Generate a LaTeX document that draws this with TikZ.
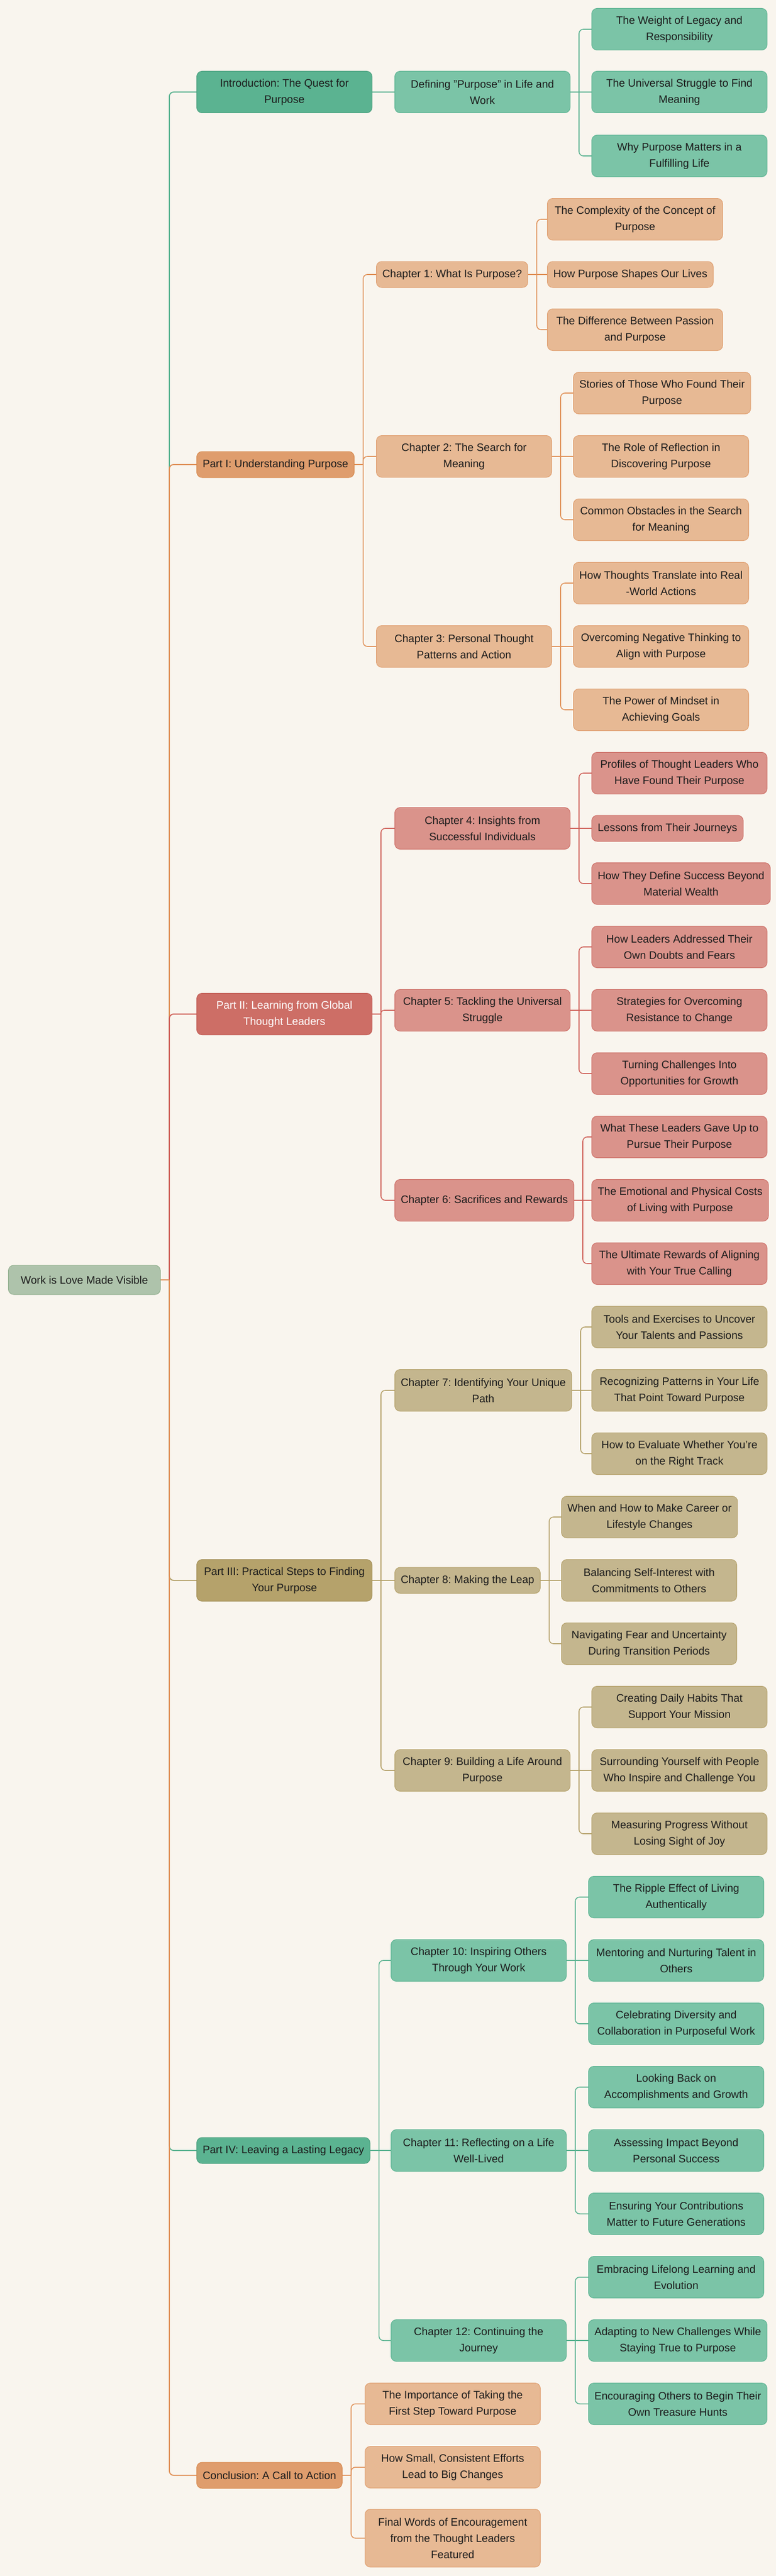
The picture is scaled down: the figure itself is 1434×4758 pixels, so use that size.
\documentclass[tikz,border=0pt]{standalone}
\usepackage{fontspec}
\setmainfont{Liberation Sans}
\frenchspacing

\definecolor{bgcream}{HTML}{F9F5EE}
\definecolor{textdark}{HTML}{1C1C1C}
\definecolor{rootfill}{HTML}{AEC3AB}
\definecolor{rootdraw}{HTML}{8FAE8C}
\definecolor{greenA}{HTML}{5BB391}
\definecolor{greenAd}{HTML}{4A9F7D}
\definecolor{greenB}{HTML}{7BC4A7}
\definecolor{orangeA}{HTML}{DF9D6D}
\definecolor{orangeAd}{HTML}{D88A4E}
\definecolor{orangeB}{HTML}{E7B994}
\definecolor{orangeL}{HTML}{E0925A}
\definecolor{redA}{HTML}{CD6E66}
\definecolor{redAd}{HTML}{C05A52}
\definecolor{redB}{HTML}{DA938B}
\definecolor{redL}{HTML}{CF625A}
\definecolor{khakiA}{HTML}{B5A26B}
\definecolor{khakiAd}{HTML}{A28E55}
\definecolor{khakiB}{HTML}{C4B68E}

\tikzset{
    box/.style = {anchor = west, rounded corners = 5pt, align = center, inner xsep = 5.5pt,
        inner ysep = 2pt, line width = 0.5pt, text = textdark,
        font = \fontsize{10pt}{15pt}\selectfont},
    oneline/.style = {minimum height = 24pt},
    twoline/.style = {minimum height = 38.5pt, minimum width = 162pt},
    threeline/.style = {minimum height = 53.5pt, minimum width = 162pt},
    rootbox/.style = {box, fill = rootfill, draw = rootdraw, inner xsep = 11.5pt, minimum height = 27pt},
    partgreen/.style = {box, fill = greenA, draw = greenAd},
    subgreen/.style = {box, fill = greenB, draw = greenA},
    partorange/.style = {box, fill = orangeA, draw = orangeAd},
    suborange/.style = {box, fill = orangeB, draw = orangeA},
    partred/.style = {box, fill = redA, draw = redAd, text = white},
    subred/.style = {box, fill = redB, draw = redA},
    partkhaki/.style = {box, fill = khakiA, draw = khakiAd},
    subkhaki/.style = {box, fill = khakiB, draw = khakiA},
    linegreen/.style = {draw = greenA, line width = 0.8pt, rounded corners = 4pt},
    lineorange/.style = {draw = orangeL, line width = 0.8pt, rounded corners = 4pt},
    linered/.style = {draw = redL, line width = 0.8pt, rounded corners = 4pt},
    linekhaki/.style = {draw = khakiA, line width = 0.8pt, rounded corners = 4pt}
}

\begin{document}
\begin{tikzpicture}[x = 0.5pt, y = -0.5pt]
            \useasboundingbox (0, 0) rectangle (1434, 4758);
            \fill [bgcream] (0, 0) rectangle (1434, 4758);

            \node [rootbox] (root) at (15, 2364) {Work is Love Made Visible};

            % introduction
            \node [partgreen, twoline] (intro) at (363, 170) {Introduction: The Quest for\\Purpose};
            \node [subgreen, twoline] (def) at (729, 170) {Defining "Purpose" in Life and\\Work};
            \node [subgreen, twoline] (weight) at (1093, 54) {The Weight of Legacy and\\Responsibility};
            \node [subgreen, twoline] (universal) at (1093, 170) {The Universal Struggle to Find\\Meaning};
            \node [subgreen, twoline] (why) at (1093, 288) {Why Purpose Matters in a\\Fulfilling Life};

            % part I
            \node [partorange, oneline] (part1) at (363, 858) {Part I: Understanding Purpose};
            \node [suborange, oneline] (ch1) at (695, 507) {Chapter 1: What Is Purpose?};
            \node [suborange, twoline] (complexity) at (1011, 405) {The Complexity of the Concept of\\Purpose};
            \node [suborange, oneline] (shapes) at (1011, 507) {How Purpose Shapes Our Lives};
            \node [suborange, twoline] (difference) at (1011, 609) {The Difference Between Passion\\and Purpose};
            \node [suborange, twoline] (ch2) at (695, 843) {Chapter 2: The Search for\\Meaning};
            \node [suborange, twoline] (stories) at (1059, 726) {Stories of Those Who Found Their\\Purpose};
            \node [suborange, twoline] (reflection) at (1059, 843) {The Role of Reflection in\\Discovering Purpose};
            \node [suborange, twoline] (obstacles) at (1059, 960) {Common Obstacles in the Search\\for Meaning};
            \node [suborange, twoline] (ch3) at (695, 1194) {Chapter 3: Personal Thought\\Patterns and Action};
            \node [suborange, twoline] (thoughts) at (1059, 1077) {How Thoughts Translate into Real\\-World Actions};
            \node [suborange, twoline] (negative) at (1059, 1194) {Overcoming Negative Thinking to\\Align with Purpose};
            \node [suborange, twoline] (mindset) at (1059, 1311) {The Power of Mindset in\\Achieving Goals};

            % part II
            \node [partred, twoline] (part2) at (363, 1873) {Part II: Learning from Global\\Thought Leaders};
            \node [subred, twoline] (ch4) at (729, 1530) {Chapter 4: Insights from\\Successful Individuals};
            \node [subred, twoline] (profiles) at (1093, 1428) {Profiles of Thought Leaders Who\\Have Found Their Purpose};
            \node [subred, oneline] (lessons) at (1093, 1530) {Lessons from Their Journeys};
            \node [subred, twoline] (success) at (1093, 1632) {How They Define Success Beyond\\Material Wealth};
            \node [subred, twoline] (ch5) at (729, 1866) {Chapter 5: Tackling the Universal\\Struggle};
            \node [subred, twoline] (doubts) at (1093, 1749) {How Leaders Addressed Their\\Own Doubts and Fears};
            \node [subred, twoline] (resistance) at (1093, 1866) {Strategies for Overcoming\\Resistance to Change};
            \node [subred, twoline] (challenges) at (1093, 1983) {Turning Challenges Into\\Opportunities for Growth};
            \node [subred, twoline] (ch6) at (729, 2217) {Chapter 6: Sacrifices and Rewards};
            \node [subred, twoline] (gaveup) at (1093, 2100) {What These Leaders Gave Up to\\Pursue Their Purpose};
            \node [subred, twoline] (costs) at (1093, 2217) {The Emotional and Physical Costs\\of Living with Purpose};
            \node [subred, twoline] (calling) at (1093, 2334) {The Ultimate Rewards of Aligning\\with Your True Calling};

            % part III
            \node [partkhaki, twoline] (part3) at (363, 2919) {Part III: Practical Steps to Finding\\Your Purpose};
            \node [subkhaki, twoline] (ch7) at (729, 2568) {Chapter 7: Identifying Your Unique\\Path};
            \node [subkhaki, twoline] (talents) at (1093, 2451) {Tools and Exercises to Uncover\\Your Talents and Passions};
            \node [subkhaki, twoline] (patterns) at (1093, 2568) {Recognizing Patterns in Your Life\\That Point Toward Purpose};
            \node [subkhaki, twoline] (track) at (1093, 2685) {How to Evaluate Whether You're\\on the Right Track};
            \node [subkhaki, oneline] (ch8) at (729, 2919) {Chapter 8: Making the Leap};
            \node [subkhaki, twoline] (career) at (1037, 2802) {When and How to Make Career or\\Lifestyle Changes};
            \node [subkhaki, twoline] (balance) at (1037, 2919) {Balancing Self-Interest with\\Commitments to Others};
            \node [subkhaki, twoline] (fear) at (1037, 3036) {Navigating Fear and Uncertainty\\During Transition Periods};
            \node [subkhaki, twoline] (ch9) at (729, 3270) {Chapter 9: Building a Life Around\\Purpose};
            \node [subkhaki, twoline] (habits) at (1093, 3153) {Creating Daily Habits That\\Support Your Mission};
            \node [subkhaki, twoline] (people) at (1093, 3270) {Surrounding Yourself with People\\Who Inspire and Challenge You};
            \node [subkhaki, twoline] (joy) at (1093, 3387) {Measuring Progress Without\\Losing Sight of Joy};

            % part IV
            \node [partgreen, oneline] (part4) at (363, 3972) {Part IV: Leaving a Lasting Legacy};
            \node [subgreen, twoline] (ch10) at (722, 3621) {Chapter 10: Inspiring Others\\Through Your Work};
            \node [subgreen, twoline] (ripple) at (1087, 3504) {The Ripple Effect of Living\\Authentically};
            \node [subgreen, twoline] (mentoring) at (1087, 3621) {Mentoring and Nurturing Talent in\\Others};
            \node [subgreen, twoline] (diversity) at (1087, 3738) {Celebrating Diversity and\\Collaboration in Purposeful Work};
            \node [subgreen, twoline] (ch11) at (722, 3972) {Chapter 11: Reflecting on a Life\\Well-Lived};
            \node [subgreen, twoline] (growth) at (1087, 3855) {Looking Back on\\Accomplishments and Growth};
            \node [subgreen, twoline] (impact) at (1087, 3972) {Assessing Impact Beyond\\Personal Success};
            \node [subgreen, twoline] (generations) at (1087, 4089) {Ensuring Your Contributions\\Matter to Future Generations};
            \node [subgreen, twoline] (ch12) at (722, 4323) {Chapter 12: Continuing the\\Journey};
            \node [subgreen, twoline] (learning) at (1087, 4206) {Embracing Lifelong Learning and\\Evolution};
            \node [subgreen, twoline] (adapting) at (1087, 4323) {Adapting to New Challenges While\\Staying True to Purpose};
            \node [subgreen, twoline] (hunts) at (1087, 4440) {Encouraging Others to Begin Their\\Own Treasure Hunts};

            % conclusion
            \node [partorange, oneline] (concl) at (363, 4572) {Conclusion: A Call to Action};
            \node [suborange, twoline] (firststep) at (674, 4440) {The Importance of Taking the\\First Step Toward Purpose};
            \node [suborange, twoline] (efforts) at (674, 4557) {How Small, Consistent Efforts\\Lead to Big Changes};
            \node [suborange, threeline] (words) at (674, 4688) {Final Words of Encouragement\\from the Thought Leaders\\Featured};

            % branch points
            \foreach \n in {root, def, part1, ch1, ch2, ch3, part2, ch4, ch5, ch6, part3, ch7, ch8, ch9, part4, ch10, ch11, ch12, concl}
                \path (\n.east) ++(16, 0) coordinate (\n-b);

            % root to parts
            \foreach \p/\l in {intro/linegreen, part1/lineorange, part2/linered, part3/linekhaki, part4/linegreen, concl/lineorange}
                \draw [\l, line width = 1pt] (root-b) |- (\p.west);
            \draw [lineorange, line width = 1pt] (root.east) -- (root-b);

            % introduction
            \draw [linegreen] (intro.east) -- (def.west);
            \draw [linegreen] (def.east) -- (universal.west);
            \foreach \c in {weight, why} \draw [linegreen] (def-b) |- (\c.west);

            % part I
            \draw [lineorange] (part1.east) -- (part1-b);
            \foreach \c in {ch1, ch2, ch3} \draw [lineorange] (part1-b) |- (\c.west);
            \draw [lineorange] (ch1.east) -- (shapes.west);
            \foreach \c in {complexity, difference} \draw [lineorange] (ch1-b) |- (\c.west);
            \draw [lineorange] (ch2.east) -- (reflection.west);
            \foreach \c in {stories, obstacles} \draw [lineorange] (ch2-b) |- (\c.west);
            \draw [lineorange] (ch3.east) -- (negative.west);
            \foreach \c in {thoughts, mindset} \draw [lineorange] (ch3-b) |- (\c.west);

            % part II
            \draw [linered] (part2.east) -- (part2-b);
            \foreach \c in {ch4, ch6} \draw [linered] (part2-b) |- (\c.west);
            \draw [linered, rounded corners = 3pt] (part2-b) |- (ch5.west);
            \draw [linered] (ch4.east) -- (lessons.west);
            \foreach \c in {profiles, success} \draw [linered] (ch4-b) |- (\c.west);
            \draw [linered] (ch5.east) -- (resistance.west);
            \foreach \c in {doubts, challenges} \draw [linered] (ch5-b) |- (\c.west);
            \draw [linered] (ch6.east) -- (costs.west);
            \foreach \c in {gaveup, calling} \draw [linered] (ch6-b) |- (\c.west);

            % part III
            \draw [linekhaki] (part3.east) -- (ch8.west);
            \foreach \c in {ch7, ch9} \draw [linekhaki] (part3-b) |- (\c.west);
            \draw [linekhaki] (ch7.east) -- (patterns.west);
            \foreach \c in {talents, track} \draw [linekhaki] (ch7-b) |- (\c.west);
            \draw [linekhaki] (ch8.east) -- (balance.west);
            \foreach \c in {career, fear} \draw [linekhaki] (ch8-b) |- (\c.west);
            \draw [linekhaki] (ch9.east) -- (people.west);
            \foreach \c in {habits, joy} \draw [linekhaki] (ch9-b) |- (\c.west);

            % part IV
            \draw [linegreen] (part4.east) -- (ch11.west);
            \foreach \c in {ch10, ch12} \draw [linegreen] (part4-b) |- (\c.west);
            \draw [linegreen] (ch10.east) -- (mentoring.west);
            \foreach \c in {ripple, diversity} \draw [linegreen] (ch10-b) |- (\c.west);
            \draw [linegreen] (ch11.east) -- (impact.west);
            \foreach \c in {growth, generations} \draw [linegreen] (ch11-b) |- (\c.west);
            \draw [linegreen] (ch12.east) -- (adapting.west);
            \foreach \c in {learning, hunts} \draw [linegreen] (ch12-b) |- (\c.west);

            % conclusion
            \draw [lineorange] (concl.east) -- (concl-b);
            \foreach \c in {firststep, efforts, words} \draw [lineorange] (concl-b) |- (\c.west);
        \end{tikzpicture}
\end{document}
